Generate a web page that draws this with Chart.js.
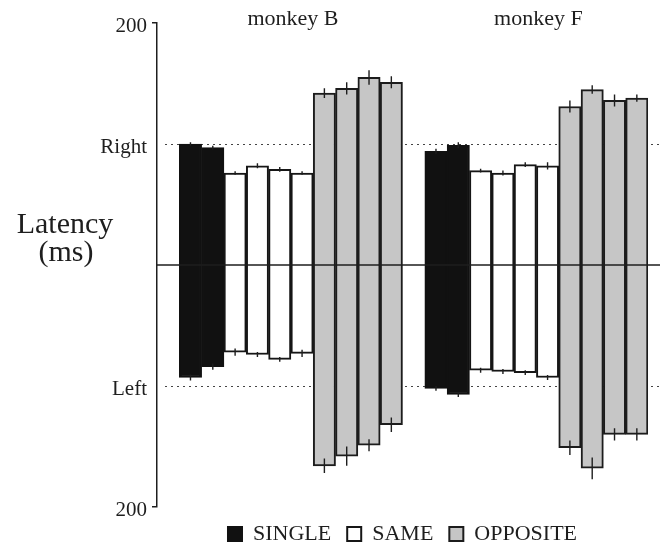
<!DOCTYPE html>
<html>
<head>
<meta charset="utf-8">
<script src="https://cdn.jsdelivr.net/npm/chart.js@4.4.1/dist/chart.umd.min.js"></script>
<style>
  html, body { margin: 0; padding: 0; background: #fff; }
  #wrap { width: 663px; height: 548px; }
</style>
</head>
<body>
<div id="wrap"><canvas id="theGraph" width="663" height="548"></canvas></div>
<script>
// latencies in ms, right saccades plotted up, left saccades plotted down
var monkeys = ['monkey B', 'monkey F'];
var conditions = ['SINGLE', 'SAME', 'OPPOSITE'];
var barCondition = ['SINGLE', 'SINGLE', 'SAME', 'SAME', 'SAME', 'SAME', 'OPPOSITE', 'OPPOSITE', 'OPPOSITE', 'OPPOSITE'];

var rightB = [100, 97, 76, 82, 79, 76, 142, 146, 155, 151];
var leftB = [93, 84, 72, 74, 78, 73, 166, 158, 149, 132];
var rightF = [94, 99, 78, 76, 83, 82, 131, 145, 136, 138];
var leftF = [102, 107, 87, 88, 89, 93, 151, 168, 140, 140];

var errRightB = [1.5, 1.5, 1.5, 2, 2, 1.5, 4, 5, 6, 5];
var errLeftB = [2.5, 2.5, 3, 2, 2, 3, 6, 8, 5, 6];
var errRightF = [2, 2.5, 1.5, 2, 2, 3, 5, 3.5, 5, 3];
var errLeftF = [2, 2, 2, 2, 2, 2, 6, 9, 5, 5];

var yTickValues = [-200, -100, 100, 200];
var yTickLabels = ['200', 'Left', 'Right', '200'];
var refLines = [100, -100];

var colors = {
  SINGLE: { fill: '#111111', border: '#111111' },
  SAME: { fill: '#ffffff', border: '#161616' },
  OPPOSITE: { fill: '#c6c6c6', border: '#1c1c1c' }
};

// one empty slot before each monkey's group of bars
var labels = [];
var groupSlots = [];
var rows = [
  { right: rightB, left: leftB, errR: errRightB, errL: errLeftB },
  { right: rightF, left: leftF, errR: errRightF, errL: errLeftF }
];
var datasets = conditions.map(function (c) {
  return {
    label: c,
    data: [],
    errors: [],
    backgroundColor: colors[c].fill,
    borderColor: colors[c].border,
    borderWidth: 2,
    borderSkipped: false
  };
});
rows.forEach(function (r, m) {
  labels.push('');
  datasets.forEach(function (ds) { ds.data.push(null); ds.errors.push(null); });
  var start = labels.length;
  barCondition.forEach(function (cond, i) {
    labels.push(monkeys[m] + ' ' + (i + 1));
    datasets.forEach(function (ds) {
      if (ds.label === cond) {
        ds.data.push([-r.left[i], r.right[i]]);
        ds.errors.push({ up: r.errR[i], down: r.errL[i] });
      } else {
        ds.data.push(null);
        ds.errors.push(null);
      }
    });
  });
  groupSlots.push([start, labels.length - 1]);
});

var serif = '"Liberation Serif", "Times New Roman", serif';
var ink = '#1e1e1e';

var overlay = {
  id: 'overlay',
  beforeDatasetsDraw: function (chart) {
    var ctx = chart.ctx, a = chart.chartArea, y = chart.scales.y;
    ctx.save();
    ctx.strokeStyle = '#444';
    ctx.lineWidth = 1.2;
    ctx.setLineDash([2, 4]);
    refLines.forEach(function (v) {
      var py = Math.round(y.getPixelForValue(v)) + 0.5;
      ctx.beginPath();
      ctx.moveTo(a.left + 8, py);
      ctx.lineTo(a.right + 12, py);
      ctx.stroke();
    });
    ctx.restore();
  },
  afterDatasetsDraw: function (chart) {
    var ctx = chart.ctx, a = chart.chartArea, x = chart.scales.x, y = chart.scales.y;
    ctx.save();
    // zero line runs over the bars
    var y0 = y.getPixelForValue(0);
    ctx.strokeStyle = ink;
    ctx.lineWidth = 1.6;
    ctx.beginPath();
    ctx.moveTo(a.left, y0);
    ctx.lineTo(a.right + 12, y0);
    ctx.stroke();

    // error bars
    ctx.lineWidth = 1.4;
    chart.data.datasets.forEach(function (ds, d) {
      var meta = chart.getDatasetMeta(d);
      meta.data.forEach(function (bar, i) {
        var e = ds.errors[i];
        if (!e) return;
        var lo = ds.data[i][0], hi = ds.data[i][1];
        ctx.beginPath();
        ctx.moveTo(bar.x, y.getPixelForValue(hi + e.up));
        ctx.lineTo(bar.x, y.getPixelForValue(hi - e.up));
        ctx.moveTo(bar.x, y.getPixelForValue(lo + e.down));
        ctx.lineTo(bar.x, y.getPixelForValue(lo - e.down));
        ctx.stroke();
      });
    });

    // monkey names over each group
    ctx.fillStyle = ink;
    ctx.font = '22px ' + serif;
    ctx.textAlign = 'center';
    ctx.textBaseline = 'alphabetic';
    groupSlots.forEach(function (g, m) {
      var cx = (x.getPixelForValue(g[0]) + x.getPixelForValue(g[1])) / 2;
      ctx.fillText(monkeys[m], cx + 2, 25);
    });

    // horizontal axis title
    ctx.font = '30px ' + serif;
    ctx.fillText('Latency', 65, 233);
    ctx.fillText('(ms)', 66, 261);
    ctx.restore();
  }
};

var chart = new Chart(document.getElementById('theGraph').getContext('2d'), {
  type: 'bar',
  data: { labels: labels, datasets: datasets },
  options: {
    responsive: false,
    animation: false,
    events: [],
    layout: { padding: { top: 23, right: 15, bottom: -7, left: 0 } },
    datasets: {
      bar: { grouped: false, barPercentage: 1, categoryPercentage: 1 }
    },
    scales: {
      x: { display: false },
      y: {
        min: -200,
        max: 200,
        afterFit: function (scale) { scale.width = 157; },
        afterBuildTicks: function (scale) {
          scale.ticks = yTickValues.map(function (v) { return { value: v }; });
        },
        border: { display: true, color: ink, width: 1.5 },
        grid: {
          drawOnChartArea: false,
          drawTicks: true,
          tickLength: 5,
          lineWidth: 1.5,
          color: function (c) {
            return c.tick && Math.abs(c.tick.value) === 200 ? ink : 'rgba(0,0,0,0)';
          }
        },
        ticks: {
          padding: 5,
          labelOffset: 3,
          color: ink,
          font: { family: serif, size: 21 },
          callback: function (v) { return yTickLabels[yTickValues.indexOf(v)]; }
        }
      }
    },
    plugins: {
      tooltip: { enabled: false },
      legend: {
        position: 'bottom',
        fullSize: false,
        labels: {
          color: ink,
          font: { family: serif, size: 22 },
          boxWidth: 14,
          boxHeight: 14,
          padding: 16
        }
      }
    }
  },
  plugins: [overlay]
});
</script>
</body>
</html>
